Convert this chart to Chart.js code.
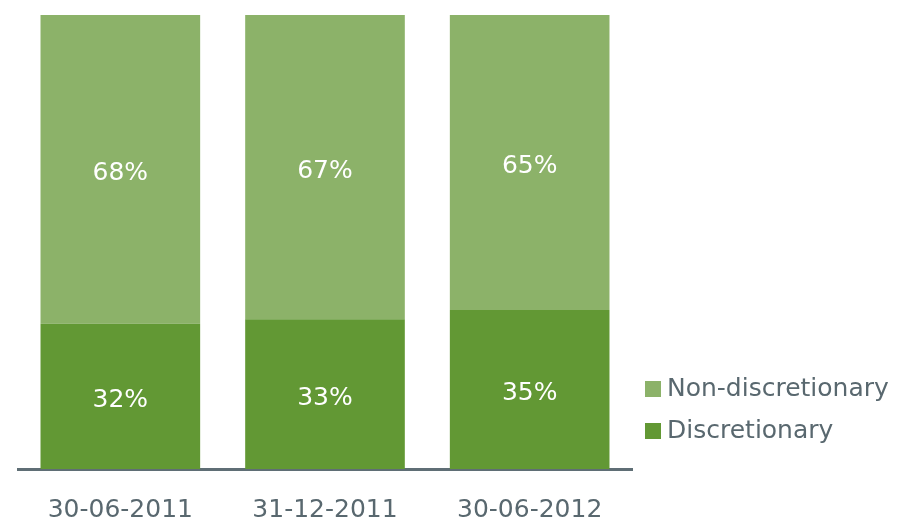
<!DOCTYPE html>
<html><head><meta charset="utf-8">
<script src="https://cdn.jsdelivr.net/npm/chart.js@4"></script>
<style>html,body{margin:0;padding:0;background:#fff}#wrap{width:898px;height:521px}</style>
</head><body><div id="wrap"><canvas id="c" width="898" height="521"></canvas></div>
<script>
const categories = ['30-06-2011', '31-12-2011', '30-06-2012'];
const discretionary = [32, 33, 35];
const nonDiscretionary = [68, 67, 65];
const seriesNames = ['Discretionary', 'Non-discretionary'];

const DARK = '#629834';
const LIGHT = '#8cb269';
const TEXT = '#59686f';
const FONT = '"DejaVu Sans", Verdana, sans-serif';

const labelPlugin = {
  id: 'segLabels',
  afterDatasetsDraw(chart) {
    const ctx = chart.ctx;
    ctx.save();
    ctx.fillStyle = '#ffffff';
    ctx.font = '25px ' + FONT;
    ctx.textAlign = 'center';
    ctx.textBaseline = 'middle';
    chart.data.datasets.forEach((ds, di) => {
      chart.getDatasetMeta(di).data.forEach((el, i) => {
        const y = (el.y + el.base) / 2;
        ctx.fillText(ds.data[i] + '%', el.x, y + 4);
      });
    });
    ctx.restore();
  }
};

const legendPlugin = {
  id: 'sideLegend',
  afterDraw(chart) {
    const ctx = chart.ctx;
    ctx.save();
    ctx.font = '25px ' + FONT;
    ctx.textBaseline = 'middle';
    ctx.textAlign = 'left';
    const items = chart.data.datasets.slice().reverse();
    items.forEach((ds, k) => {
      const yc = 389 + k * 42;
      ctx.fillStyle = ds.backgroundColor;
      ctx.fillRect(645, yc - 8, 16, 16);
      ctx.fillStyle = TEXT;
      ctx.fillText(ds.label, 667, yc);
    });
    ctx.restore();
  }
};

new Chart(document.getElementById('c'), {
  type: 'bar',
  data: {
    labels: categories,
    datasets: [
      { label: seriesNames[0], data: discretionary, backgroundColor: DARK, borderWidth: 0 },
      { label: seriesNames[1], data: nonDiscretionary, backgroundColor: LIGHT, borderWidth: 0 }
    ]
  },
  options: {
    responsive: false,
    animation: false,
    devicePixelRatio: 1,
    layout: { padding: { left: 18, right: 266, top: 15, bottom: 0 } },
    plugins: { legend: { display: false }, tooltip: { enabled: false } },
    datasets: { bar: { barPercentage: 0.78, categoryPercentage: 1 } },
    scales: {
      x: {
        stacked: true,
        grid: { display: false, drawTicks: false },
        border: { display: true, color: '#5f6e75', width: 3 },
        ticks: { color: TEXT, font: { family: FONT, size: 25 }, padding: 26 },
        afterFit(scale) { scale.height = 52; }
      },
      y: {
        stacked: true, display: false, min: 0, max: 100
      }
    }
  },
  plugins: [labelPlugin, legendPlugin]
});
</script>
</body></html>
